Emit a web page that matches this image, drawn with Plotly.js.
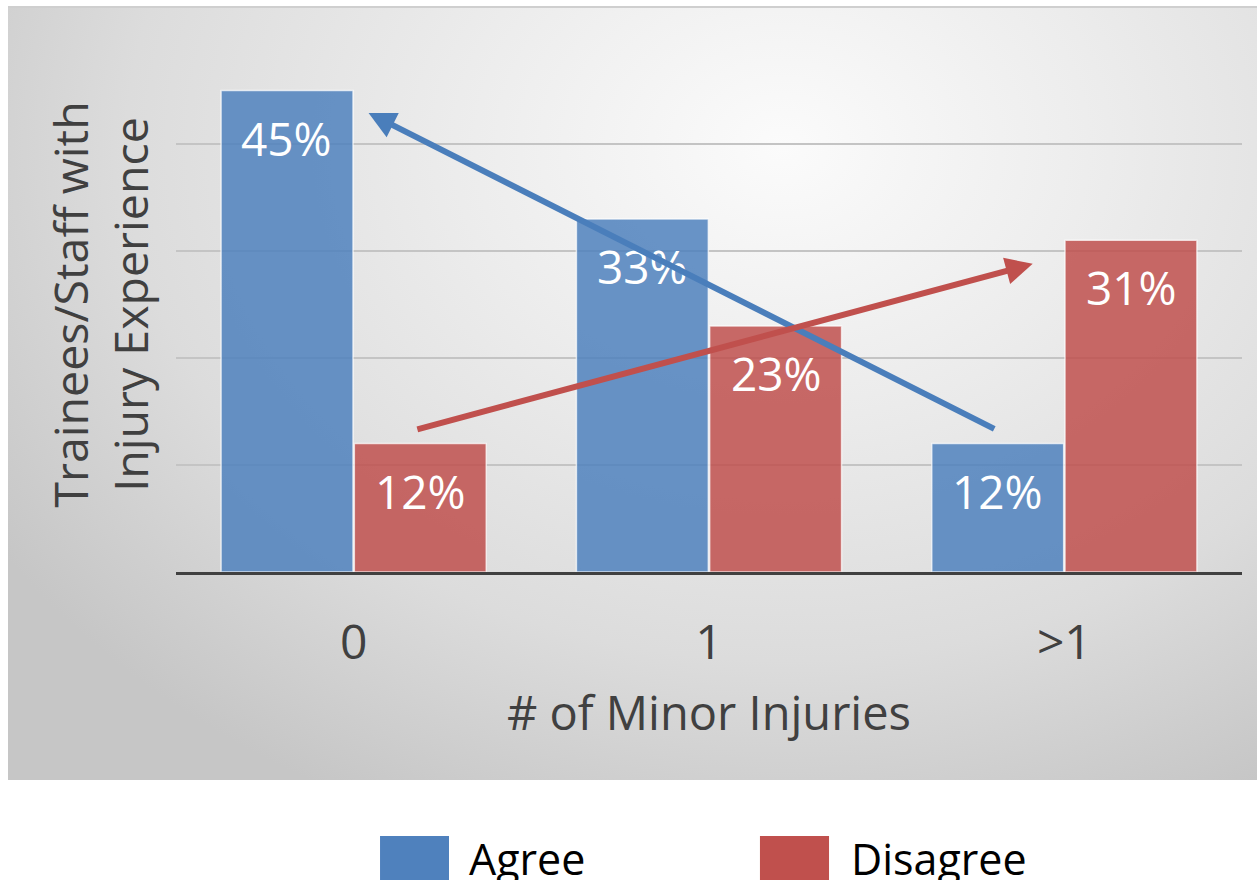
<!DOCTYPE html>
<html>
<head>
<meta charset="utf-8">
<script src="https://cdn.plot.ly/plotly-3.0.1.min.js"></script>
<style>
  html, body { margin: 0; padding: 0; background: #ffffff; }
  #wrap { position: relative; width: 1257px; height: 880px; overflow: hidden; }
  #panel { position: absolute; left: 8px; top: 6px; width: 1249px; height: 772px;
    border-top: 2px solid #cfcfcf;
    background: radial-gradient(ellipse 75% 95% at 62% 18%, #fbfbfb 0%, #ececec 35%, #dcdcdc 70%, #c6c6c6 100%); }
  #chart { position: absolute; left: 0; top: 0; width: 1257px; height: 880px; }
</style>
</head>
<body>
<div id="wrap">
  <div id="panel"></div>
  <div id="chart"></div>
</div>
<script>
// ---- data ----
const categories = ['0', '1', '>1'];
const agree = [45, 33, 12];
const disagree = [12, 23, 31];
const seriesNames = ['Agree', 'Disagree'];
// trend arrows (tail -> head), in axis units (category index, percent)
const agreeArrow = { from: [1.807, 13.3], to: [0.042, 42.9] };
const disagreeArrow = { from: [0.175, 13.3], to: [1.911, 28.8] };

const font = '"Open Sans", "Noto Sans", sans-serif';
const blueBar = 'rgba(79,129,189,0.85)';
const redBar = 'rgba(192,80,77,0.85)';
const blue = '#4f81bd';
const red = '#c0504d';

const traces = [
  { type: 'bar', name: seriesNames[0], x: categories, y: agree,
    marker: { color: blueBar, line: { color: 'rgba(255,255,255,0.7)', width: 1.5 } },
    hoverinfo: 'skip' },
  { type: 'bar', name: seriesNames[1], x: categories, y: disagree,
    marker: { color: redBar, line: { color: 'rgba(255,255,255,0.7)', width: 1.5 } },
    hoverinfo: 'skip' }
];

const annotations = [];
// data labels
[agree, disagree].forEach((vals, si) => {
  vals.forEach((v, i) => {
    annotations.push({
      x: categories[i], y: v, xref: 'x', yref: 'y',
      text: v + '%', showarrow: false,
      xshift: si === 0 ? -67 : 67, yshift: -47, yanchor: 'middle',
      font: { family: font, size: 46, color: '#ffffff' }
    });
  });
});
// trend arrows
[[agreeArrow, '#4a7ebb'], [disagreeArrow, red]].forEach(([a, c]) => {
  annotations.push({
    x: a.to[0], y: a.to[1], ax: a.from[0], ay: a.from[1],
    xref: 'x', yref: 'y', axref: 'x', ayref: 'y',
    text: '', showarrow: true, arrowhead: 2, arrowsize: 0.9, arrowwidth: 6,
    arrowcolor: c, standoff: 0
  });
});
// legend (custom, large)
const legendItems = [
  { name: seriesNames[0], color: blue, x0: 0.1914, x1: 0.2561, tx: 0.273 },
  { name: seriesNames[1], color: red, x0: 0.5478, x1: 0.6126, tx: 0.631 }
];
const shapes = [];
legendItems.forEach(it => {
  shapes.push({ type: 'rect', xref: 'paper', yref: 'paper',
    x0: it.x0, x1: it.x1, y0: -0.4935, y1: -0.60,
    fillcolor: it.color, line: { width: 0 } });
  annotations.push({ xref: 'paper', yref: 'paper', x: it.tx, y: -0.535,
    xanchor: 'left', yanchor: 'middle', showarrow: false, text: it.name,
    font: { family: font, size: 43, color: '#000000' } });
});

const layout = {
  width: 1257, height: 880,
  margin: { l: 176, r: 15, t: 37, b: 308 },
  paper_bgcolor: 'rgba(0,0,0,0)', plot_bgcolor: 'rgba(0,0,0,0)',
  showlegend: false,
  barmode: 'group', bargap: 0.25, bargroupgap: 0.01,
  font: { family: font, color: '#404040' },
  xaxis: {
    type: 'category', showgrid: false, showline: true, linecolor: '#404040', linewidth: 3,
    ticks: '', ticklabelstandoff: 26,
    tickfont: { family: font, size: 48, color: '#404040' },
    title: { text: '# of Minor Injuries', standoff: 26, font: { family: font, size: 47, color: '#404040' } },
    automargin: false, fixedrange: true
  },
  yaxis: {
    range: [0, 50], dtick: 10, showticklabels: false, ticks: '',
    showgrid: true, gridcolor: '#c4c4c4', gridwidth: 1.5, zeroline: false,
    title: { text: 'Trainees/Staff with<br>Injury Experience', standoff: 11,
      font: { family: font, size: 46.5, color: '#404040' } },
    automargin: false, fixedrange: true
  },
  annotations: annotations,
  shapes: shapes
};

Plotly.newPlot('chart', traces, layout, { displayModeBar: false, staticPlot: true });
</script>
</body>
</html>
